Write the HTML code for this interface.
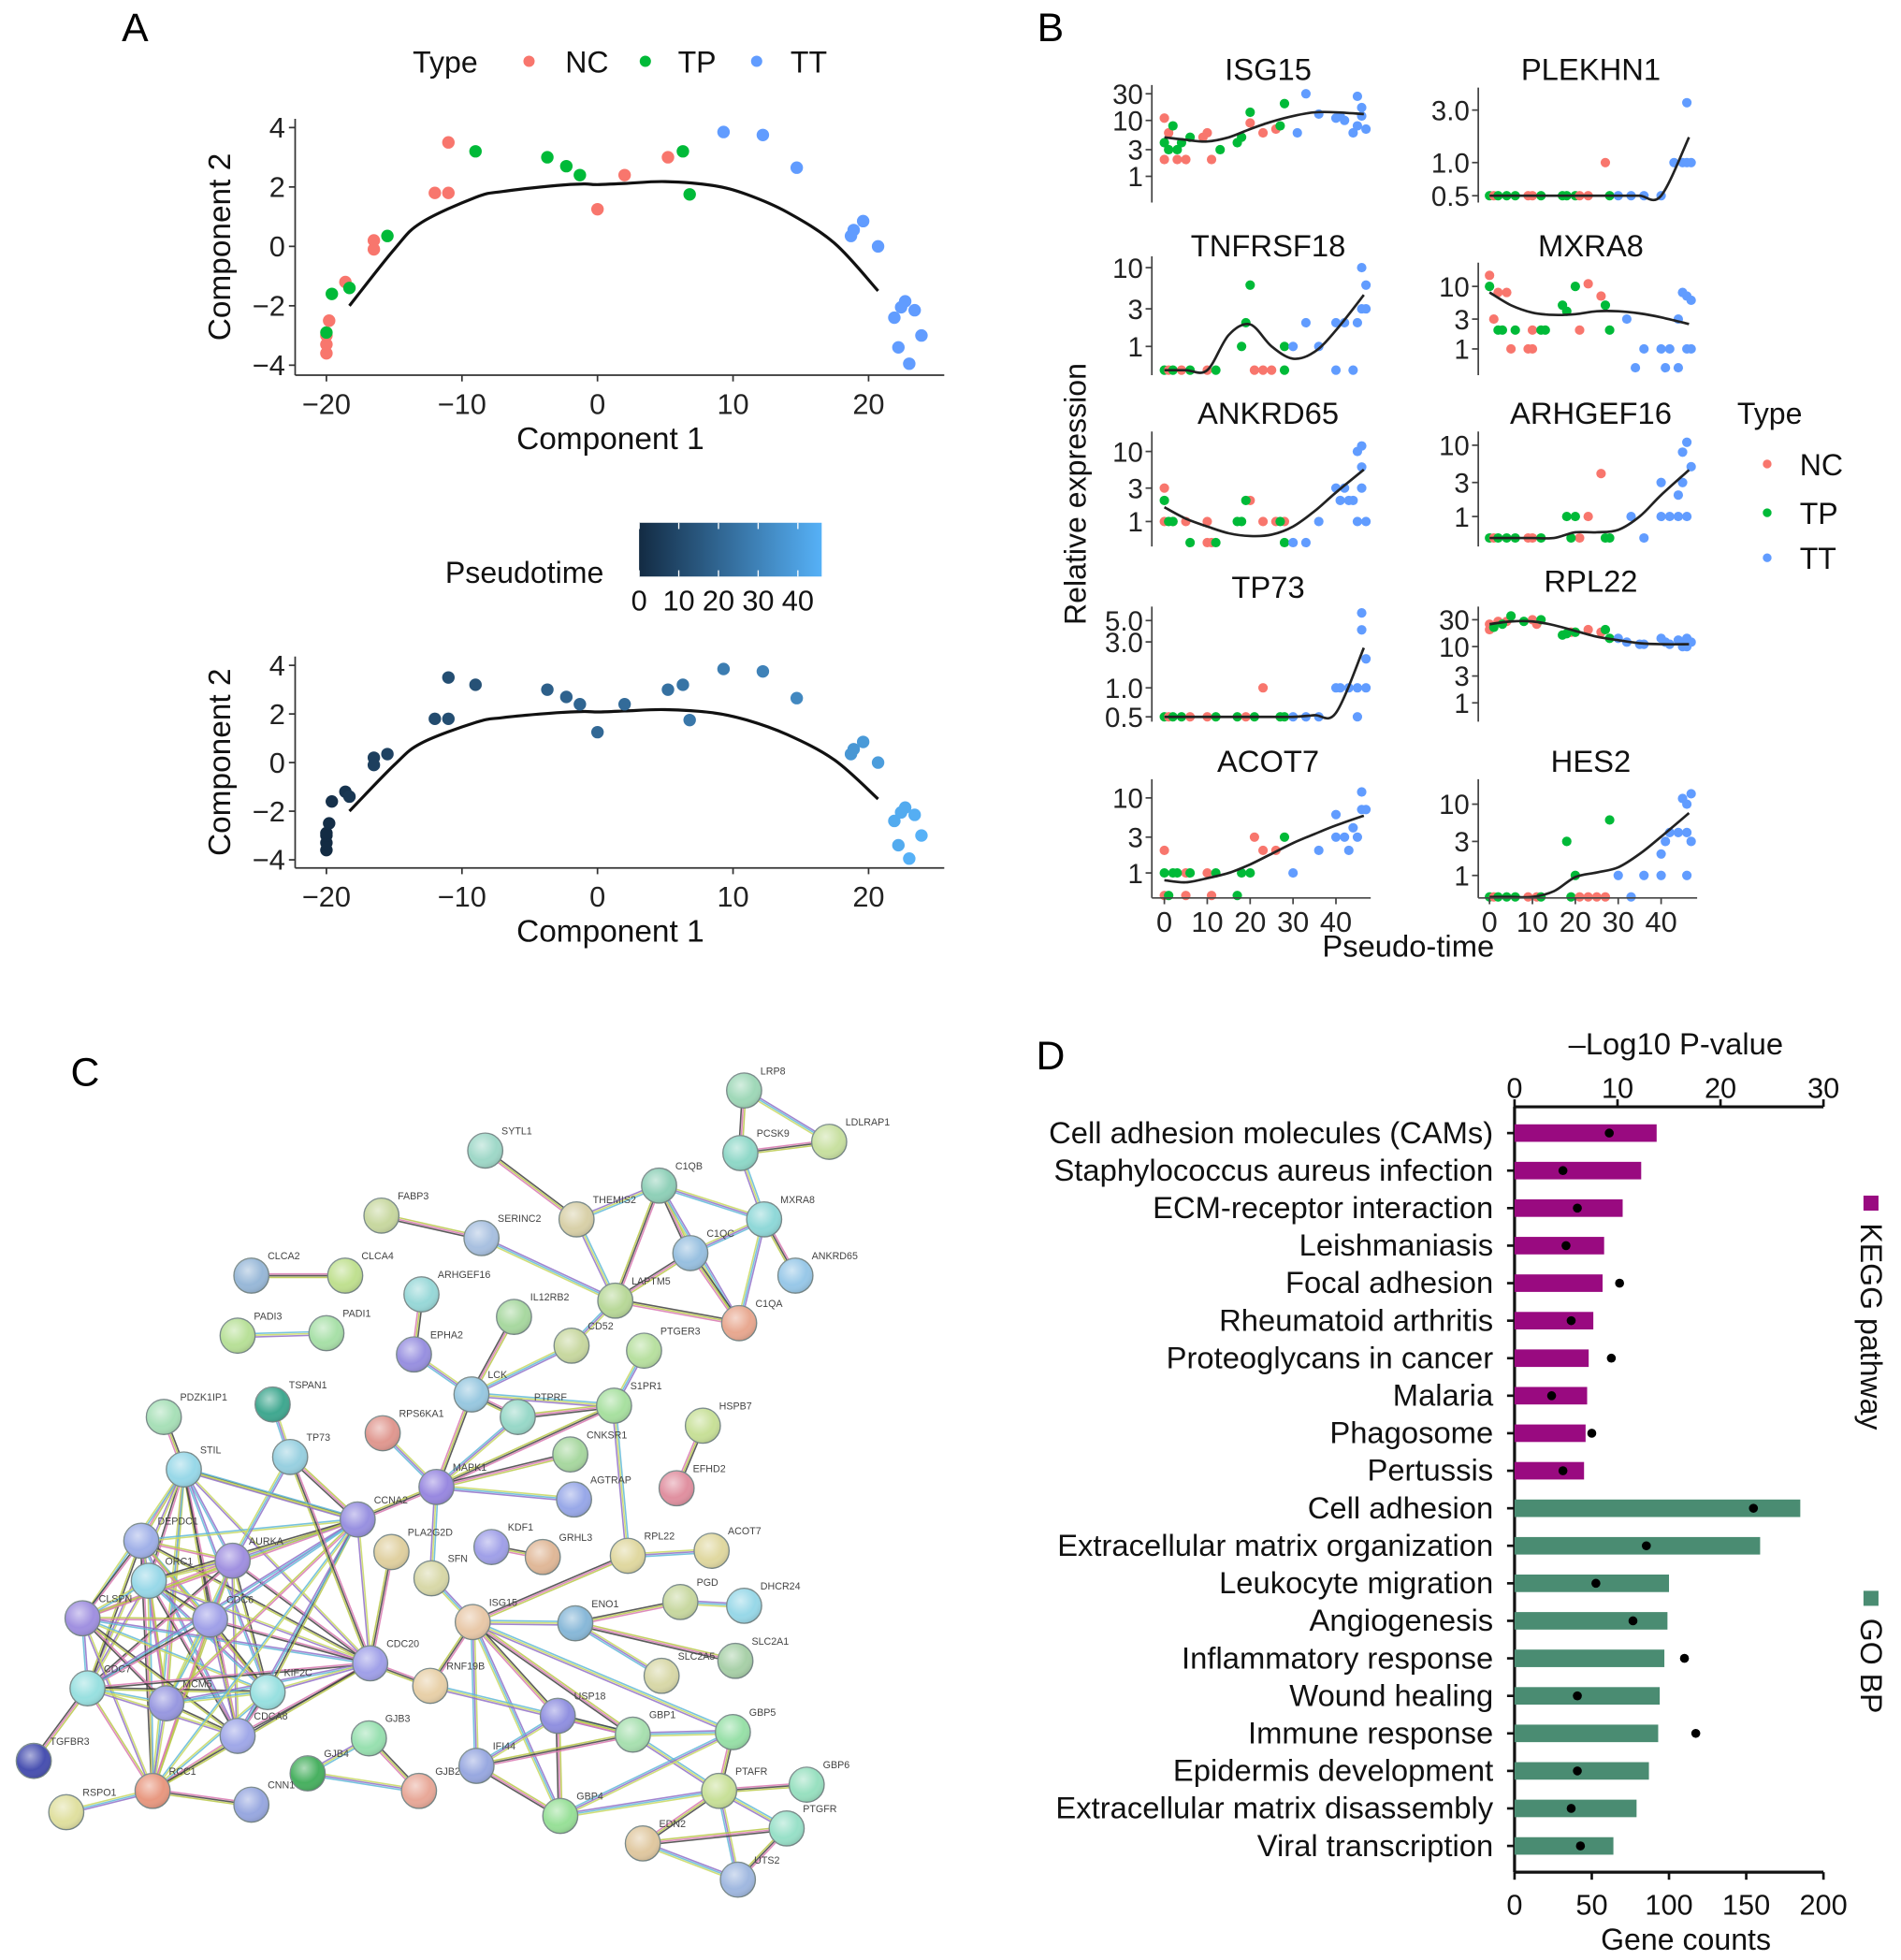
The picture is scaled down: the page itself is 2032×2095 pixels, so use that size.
<!DOCTYPE html>
<html><head><meta charset="utf-8"><style>
html,body{margin:0;padding:0;background:#fff;}
svg{display:block;font-family:"Liberation Sans",sans-serif;}
</style></head><body>
<svg id="fig" width="2032" height="2095" viewBox="0 0 1520 1567.2" preserveAspectRatio="none" xmlns="http://www.w3.org/2000/svg">
<defs>
<linearGradient id="ptGrad" x1="0" x2="1" y1="0" y2="0"><stop offset="0" stop-color="#132B43"/><stop offset="1" stop-color="#56B1F7"/></linearGradient>
<radialGradient id="shine" cx="0.4" cy="0.35" r="0.7"><stop offset="0" stop-color="#fff" stop-opacity="0.55"/><stop offset="0.6" stop-color="#fff" stop-opacity="0"/><stop offset="1" stop-color="#000" stop-opacity="0.15"/></radialGradient>
</defs>
<g id="root"></g>
</svg>
<script>
// ===== Panel A data =====
const compA1 = [-20,-20,-20,-20,-19.8,-19.6,-18.6,-18.3,-16.5,-16.5,-15.5,-12,-11,-11,-9,-3.7,-2.3,-1.3,0,2,5.2,6.3,6.8,9.3,12.2,14.7,18.7,18.9,19.6,20.7,21.9,22.4,22.7,23.4,23.9,22.2,23.0];
const compA2 = [-3.6,-3.3,-3.0,-2.9,-2.5,-1.6,-1.2,-1.4,0.2,-0.1,0.35,1.8,1.8,3.5,3.2,3.0,2.7,2.4,1.25,2.4,3.0,3.2,1.75,3.85,3.75,2.65,0.35,0.55,0.85,0,-2.4,-2.05,-1.85,-2.15,-3.0,-3.4,-3.95];
const typeA = ["NC","NC","NC","TP","NC","TP","NC","TP","NC","NC","TP","NC","NC","NC","TP","TP","TP","TP","NC","NC","NC","TP","TP","TT","TT","TT","TT","TT","TT","TT","TT","TT","TT","TT","TT","TT","TT"];
const pseudoA = [0,0,0,0,1,2,3,4,7,7,8,11,12,12,13,18,19,20,21,22,24,25,26,28,30,32,37,37,38,39,44,44,44,45,46,44,46];
const trajX = [-18.3,-15,-13,-9,-7,-3,-1,0,2,5,8.5,11,14,17.5,20.7];
const trajY = [-2,-0.1,0.8,1.65,1.85,2.05,2.1,2.08,2.12,2.18,2.05,1.75,1.15,0.1,-1.5];
const axisTicksA1 = [-20,-10,0,10,20];
const axisTicksA2 = [4,2,0,-2,-4];
const colorbarTicks = [0,10,20,30,40];

// ===== Panel B data: [pseudotime, expression, type] =====
const ISG15_pts = [[0,11,"NC"],[0,2,"NC"],[1,6,"NC"],[3,2,"NC"],[5,2,"NC"],[9,5,"NC"],[10,6,"NC"],[11,2,"NC"],[20,9,"NC"],[23,6,"NC"],[26,7,"NC"],[0,4,"TP"],[1,3,"TP"],[2,8,"TP"],[3,3,"TP"],[4,4,"TP"],[6,5,"TP"],[13,3,"TP"],[17,4,"TP"],[18,5,"TP"],[20,14,"TP"],[27,8,"TP"],[28,20,"TP"],[31,6,"TT"],[33,30,"TT"],[36,13,"TT"],[40,11,"TT"],[42,10,"TT"],[44,6,"TT"],[45,8,"TT"],[45,27,"TT"],[46,17,"TT"],[46,12,"TT"],[47,7,"TT"],[41,12,"TT"]];
const ISG15_fit = [5,4.5,4.2,5,7,9.5,12,14,14,13];
const PLEKHN1_pts = [[0,0.5,"TP"],[1,0.5,"NC"],[2,0.5,"TP"],[4,0.5,"TP"],[6,0.5,"TP"],[9,0.5,"NC"],[10,0.5,"NC"],[12,0.5,"TP"],[17,0.5,"TP"],[18,0.5,"TP"],[20,0.5,"TP"],[21,0.5,"NC"],[23,0.5,"NC"],[27,1,"NC"],[28,0.5,"TP"],[30,0.5,"TT"],[33,0.5,"TT"],[36,0.5,"TT"],[40,0.5,"TT"],[43,1,"TT"],[45,1,"TT"],[46,1,"TT"],[46,3.5,"TT"],[47,1,"TT"]];
const PLEKHN1_fit = [0.5,0.5,0.5,0.5,0.5,0.5,0.5,0.5,0.5,1.7];
const TNFRSF18_pts = [[0,0.5,"TP"],[1,0.5,"NC"],[2,0.5,"TP"],[4,0.5,"NC"],[6,0.5,"TP"],[10,0.5,"NC"],[12,0.5,"TP"],[18,1,"TP"],[19,2,"TP"],[20,6,"TP"],[28,1,"TP"],[21,0.5,"NC"],[23,0.5,"NC"],[25,0.5,"NC"],[28,0.5,"TP"],[30,1,"TT"],[33,2,"TT"],[36,1,"TT"],[40,0.5,"TT"],[40,2,"TT"],[42,2,"TT"],[44,0.5,"TT"],[45,2,"TT"],[46,10,"TT"],[46,3,"TT"],[47,6,"TT"],[47,3,"TT"]];
const TNFRSF18_fit = [0.5,0.5,0.5,1.4,1.9,1.0,0.7,0.85,1.6,4.5];
const MXRA8_pts = [[0,15,"NC"],[1,3,"NC"],[2,8,"NC"],[4,8,"NC"],[5,1,"NC"],[9,1,"NC"],[10,2,"NC"],[10,1,"NC"],[21,2,"NC"],[23,11,"NC"],[26,7,"NC"],[0,10,"TP"],[2,2,"TP"],[3,2,"TP"],[6,2,"TP"],[12,2,"TP"],[13,2,"TP"],[17,5,"TP"],[18,4,"TP"],[20,10,"TP"],[27,5,"TP"],[28,2,"TP"],[32,3,"TT"],[34,0.5,"TT"],[36,1,"TT"],[40,1,"TT"],[41,0.5,"TT"],[42,1,"TT"],[44,0.5,"TT"],[44,3,"TT"],[45,8,"TT"],[46,1,"TT"],[46,7,"TT"],[47,6,"TT"],[47,1,"TT"]];
const MXRA8_fit = [8,5,3.8,3.5,3.6,4,4,3.7,3.2,2.5];
const ANKRD65_pts = [[0,3,"NC"],[0,1,"NC"],[2,1,"NC"],[5,1,"NC"],[10,1,"NC"],[10,0.5,"NC"],[11,0.5,"NC"],[20,2,"NC"],[23,1,"NC"],[26,1,"NC"],[28,1,"NC"],[0,2,"TP"],[1,1,"TP"],[2,1,"TP"],[6,0.5,"TP"],[12,0.5,"TP"],[17,1,"TP"],[18,1,"TP"],[19,2,"TP"],[27,1,"TP"],[28,0.5,"TP"],[30,0.5,"TT"],[33,0.5,"TT"],[36,1,"TT"],[40,3,"TT"],[41,2,"TT"],[42,3,"TT"],[43,2,"TT"],[44,2,"TT"],[45,1,"TT"],[45,10,"TT"],[46,12,"TT"],[46,6,"TT"],[47,1,"TT"],[46,3,"TT"]];
const ANKRD65_fit = [1.6,1.1,0.85,0.68,0.62,0.65,0.85,1.4,2.6,5.5];
const ARHGEF16_pts = [[0,0.5,"TP"],[1,0.5,"NC"],[2,0.5,"TP"],[4,0.5,"TP"],[6,0.5,"TP"],[9,0.5,"NC"],[10,0.5,"NC"],[12,0.5,"TP"],[26,4,"NC"],[23,1,"NC"],[21,0.5,"NC"],[18,1,"TP"],[20,1,"TP"],[19,0.5,"TP"],[27,0.5,"TP"],[28,0.5,"TP"],[33,1,"TT"],[36,0.5,"TT"],[40,3,"TT"],[40,1,"TT"],[42,1,"TT"],[44,1,"TT"],[44,2,"TT"],[45,3,"TT"],[45,8,"TT"],[46,11,"TT"],[46,1,"TT"],[47,5,"TT"]];
const ARHGEF16_fit = [0.5,0.5,0.5,0.5,0.6,0.6,0.65,1.0,2,4.5];
const TP73_pts = [[0,0.5,"TP"],[1,0.5,"NC"],[2,0.5,"TP"],[4,0.5,"TP"],[6,0.5,"NC"],[10,0.5,"NC"],[12,0.5,"TP"],[17,0.5,"TP"],[19,0.5,"NC"],[21,0.5,"TP"],[23,1,"NC"],[27,0.5,"TP"],[28,0.5,"TP"],[30,0.5,"TT"],[33,0.5,"TT"],[36,0.5,"TT"],[40,1,"TT"],[41,1,"TT"],[43,1,"TT"],[45,1,"TT"],[45,0.5,"TT"],[46,6,"TT"],[46,4,"TT"],[47,2,"TT"],[47,1,"TT"]];
const TP73_fit = [0.5,0.5,0.5,0.5,0.5,0.5,0.5,0.52,0.55,2.6];
const RPL22_pts = [[0,20,"NC"],[0,25,"NC"],[2,28,"NC"],[4,28,"NC"],[10,30,"NC"],[11,25,"NC"],[19,18,"NC"],[23,20,"NC"],[26,18,"NC"],[1,22,"TP"],[3,25,"TP"],[5,35,"TP"],[8,28,"TP"],[12,30,"TP"],[17,16,"TP"],[18,17,"TP"],[20,18,"TP"],[27,20,"TP"],[28,14,"TP"],[30,14,"TT"],[32,12,"TT"],[35,11,"TT"],[36,11,"TT"],[40,14,"TT"],[41,12,"TT"],[42,11,"TT"],[44,13,"TT"],[45,10,"TT"],[46,14,"TT"],[46,10,"TT"],[47,12,"TT"],[45,12,"TT"]];
const RPL22_fit = [25,28,28,24,19,15,13,11.5,11,11];
const ACOT7_pts = [[0,2,"NC"],[0,0.5,"NC"],[5,1,"NC"],[5,0.5,"NC"],[10,1,"NC"],[11,0.5,"NC"],[21,3,"NC"],[23,2,"NC"],[26,2,"NC"],[0,1,"TP"],[1,0.5,"TP"],[2,1,"TP"],[3,1,"TP"],[6,1,"TP"],[12,1,"TP"],[17,0.5,"TP"],[18,1,"TP"],[20,1,"TP"],[28,3,"TP"],[30,1,"TT"],[36,2,"TT"],[40,6,"TT"],[40,3,"TT"],[42,3,"TT"],[43,2,"TT"],[44,4,"TT"],[45,3,"TT"],[46,12,"TT"],[46,7,"TT"],[47,7,"TT"]];
const ACOT7_fit = [0.8,0.75,0.85,1.0,1.3,1.8,2.5,3.3,4.3,5.8];
const HES2_pts = [[0,0.5,"TP"],[1,0.5,"NC"],[2,0.5,"TP"],[4,0.5,"TP"],[6,0.5,"TP"],[9,0.5,"NC"],[11,0.5,"NC"],[12,0.5,"TP"],[18,3,"TP"],[19,0.5,"TP"],[20,1,"TP"],[28,6,"TP"],[21,0.5,"NC"],[23,0.5,"NC"],[25,0.5,"NC"],[27,0.5,"NC"],[30,1,"TT"],[33,0.5,"TT"],[36,1,"TT"],[40,1,"TT"],[40,2,"TT"],[41,3,"TT"],[42,4,"TT"],[44,4,"TT"],[45,12,"TT"],[46,10,"TT"],[46,4,"TT"],[47,14,"TT"],[47,3,"TT"],[46,1,"TT"]];
const HES2_fit = [0.5,0.5,0.5,0.6,0.95,1.1,1.3,2,3.5,7.5];
const fitTimes = [0,5,10,15,20,25,30,35,40,46.5];
const ISG15_ticks = ["1","3","10","30"];
const PLEKHN1_ticks = ["0.5","1.0","3.0"];
const TNFRSF18_ticks = ["1","3","10"];
const MXRA8_ticks = ["1","3","10"];
const ANKRD65_ticks = ["1","3","10"];
const ARHGEF16_ticks = ["1","3","10"];
const TP73_ticks = ["0.5","1.0","3.0","5.0"];
const RPL22_ticks = ["1","3","10","30"];
const ACOT7_ticks = ["1","3","10"];
const HES2_ticks = ["1","3","10"];
const timeTicks = [0,10,20,30,40];

// ===== Panel D data =====
const dCategories = ["Cell adhesion molecules (CAMs)","Staphylococcus aureus infection","ECM-receptor interaction","Leishmaniasis","Focal adhesion","Rheumatoid arthritis","Proteoglycans in cancer","Malaria","Phagosome","Pertussis","Cell adhesion","Extracellular matrix organization","Leukocyte migration","Angiogenesis","Inflammatory response","Wound healing","Immune response","Epidermis development","Extracellular matrix disassembly","Viral transcription"];
const dGroups = ["KEGG","KEGG","KEGG","KEGG","KEGG","KEGG","KEGG","KEGG","KEGG","KEGG","GO","GO","GO","GO","GO","GO","GO","GO","GO","GO"];
const dCounts = [92,82,70,58,57,51,48,47,46,45,185,159,100,99,97,94,93,87,79,64];
const dLogP = [9.2,4.7,6.1,5.0,10.2,5.5,9.4,3.6,7.5,4.7,23.2,12.8,7.9,11.5,16.5,6.1,17.6,6.1,5.5,6.4];
const dCountTicks = [0,50,100,150,200];
const dPTicks = [0,10,20,30];

// ===== Panel C network =====
const netNodes = [["LRP8",595,872,"#9fd8b8"],["PCSK9",592,922,"#8fd8c8"],["LDLRAP1",663,913,"#c8e0a0"],["SYTL1",388,920,"#9fd8c8"],["C1QB",527,948,"#8fd0b8"],["MXRA8",611,975,"#8fd8d8"],["THEMIS2",461,975,"#d8d0a8"],["FABP3",305,972,"#c8d8a0"],["SERINC2",385,990,"#a8c0e0"],["C1QC",552,1002,"#98c0e0"],["ANKRD65",636,1020,"#98c8e8"],["CLCA2",201,1020,"#98b8d8"],["CLCA4",276,1020,"#c0e090"],["ARHGEF16",337,1035,"#98d8d8"],["LAPTM5",492,1040,"#b8d898"],["C1QA",591,1058,"#e8a890"],["IL12RB2",411,1053,"#a8d8a0"],["CD52",457,1076,"#c8d8a0"],["PTGER3",515,1080,"#b8e0a0"],["PADI3",190,1068,"#b8e098"],["PADI1",261,1066,"#a8e0a8"],["EPHA2",331,1083,"#9890e0"],["LCK",377,1115,"#98c8e0"],["PTPRF",414,1133,"#98d8c8"],["S1PR1",491,1124,"#a8e0a0"],["HSPB7",562,1140,"#c8e098"],["PDZK1IP1",131,1133,"#a8e0b8"],["TSPAN1",218,1123,"#40a890"],["RPS6KA1",306,1146,"#e09890"],["CNKSR1",456,1163,"#a8d8a0"],["TP73",232,1165,"#98d0e0"],["STIL",147,1175,"#98d8e8"],["MAPK1",349,1189,"#9888e0"],["AGTRAP",459,1199,"#98a8e8"],["EFHD2",541,1190,"#e090a0"],["CCNA2",286,1215,"#9890e0"],["DEPDC1",113,1232,"#a0b0e8"],["KDF1",393,1237,"#a0a0e8"],["GRHL3",434,1245,"#e0b898"],["RPL22",502,1244,"#e0d8a0"],["ACOT7",569,1240,"#e0d8a0"],["PLA2G2D",313,1241,"#e0d0a0"],["AURKA",186,1248,"#a090e0"],["ORC1",119,1264,"#98d8e8"],["SFN",345,1262,"#d8d8a8"],["CLSPN",66,1294,"#a090e0"],["CDC6",168,1295,"#a0a0e8"],["ISG15",378,1297,"#e8c8a8"],["ENO1",460,1298,"#88b8d8"],["PGD",544,1281,"#c8d8a0"],["DHCR24",595,1284,"#98d8e8"],["CDC20",296,1330,"#a0a0e8"],["SLC2A5",529,1340,"#d8d8a8"],["SLC2A1",588,1328,"#a8d0a8"],["CDC7",70,1350,"#98e0e0"],["MCM5",133,1362,"#9898e0"],["KIF2C",214,1353,"#98e0e0"],["CDCA8",190,1388,"#a0a8e8"],["RNF19B",344,1348,"#e8d0a8"],["USP18",446,1372,"#9090e0"],["GBP1",506,1387,"#a8e0b0"],["GBP5",586,1385,"#98e0a8"],["TGFBR3",27,1408,"#4850b0"],["GJB3",295,1390,"#98e0b0"],["GJB4",246,1418,"#48b060"],["GJB2",335,1432,"#e8a898"],["IFI44",381,1412,"#98a8e0"],["RCC1",122,1432,"#e89880"],["CNN1",201,1443,"#98a8e0"],["RSPO1",53,1449,"#e0e0a0"],["GBP4",448,1452,"#98e098"],["PTAFR",575,1432,"#c8e098"],["GBP6",645,1427,"#98e0c0"],["PTGFR",629,1462,"#98e0c8"],["EDN2",514,1474,"#e0c8a0"],["UTS2",590,1503,"#a0b8e0"]];
const netEdges = [["LRP8","PCSK9"],["LRP8","LDLRAP1"],["PCSK9","LDLRAP1"],["PCSK9","MXRA8"],["SYTL1","THEMIS2"],["C1QB","MXRA8"],["C1QB","C1QC"],["C1QB","C1QA"],["C1QB","LAPTM5"],["C1QB","THEMIS2"],["C1QC","C1QA"],["C1QC","MXRA8"],["C1QC","LAPTM5"],["MXRA8","C1QA"],["MXRA8","ANKRD65"],["THEMIS2","LAPTM5"],["LAPTM5","C1QA"],["LAPTM5","CD52"],["FABP3","SERINC2"],["SERINC2","LAPTM5"],["CLCA2","CLCA4"],["PADI3","PADI1"],["ARHGEF16","EPHA2"],["EPHA2","LCK"],["IL12RB2","LCK"],["CD52","LCK"],["LCK","PTPRF"],["LCK","S1PR1"],["LCK","MAPK1"],["PTPRF","MAPK1"],["PTPRF","S1PR1"],["PTGER3","S1PR1"],["S1PR1","MAPK1"],["S1PR1","RPL22"],["HSPB7","EFHD2"],["RPS6KA1","MAPK1"],["CNKSR1","MAPK1"],["AGTRAP","MAPK1"],["MAPK1","CCNA2"],["MAPK1","SFN"],["PDZK1IP1","STIL"],["TSPAN1","TP73"],["TP73","CCNA2"],["TP73","AURKA"],["TP73","CDC20"],["STIL","CCNA2"],["KDF1","GRHL3"],["RPL22","ACOT7"],["RPL22","ISG15"],["SFN","ISG15"],["PLA2G2D","CDC20"],["ISG15","ENO1"],["ISG15","USP18"],["ISG15","IFI44"],["ISG15","GBP1"],["ISG15","GBP4"],["ISG15","RNF19B"],["ISG15","GBP5"],["ENO1","PGD"],["ENO1","SLC2A5"],["ENO1","SLC2A1"],["PGD","DHCR24"],["CDC20","RNF19B"],["RNF19B","GBP1"],["USP18","GBP1"],["USP18","IFI44"],["USP18","GBP4"],["GBP1","GBP5"],["GBP1","IFI44"],["GBP1","PTAFR"],["GBP5","PTAFR"],["GBP5","GBP4"],["IFI44","GBP4"],["GBP4","PTAFR"],["PTAFR","GBP6"],["PTAFR","PTGFR"],["PTAFR","EDN2"],["PTAFR","UTS2"],["EDN2","PTGFR"],["EDN2","UTS2"],["PTGFR","UTS2"],["GJB3","GJB4"],["GJB3","GJB2"],["GJB4","GJB2"],["CDC7","TGFBR3"],["RCC1","RSPO1"],["RCC1","CNN1"]];
const cellCycle = ["STIL","DEPDC1","AURKA","ORC1","CLSPN","CDC6","CDC7","MCM5","KIF2C","CDCA8","RCC1","CCNA2","CDC20"];

// ===== rendering =====
const NS = "http://www.w3.org/2000/svg";
const root = document.getElementById("root");
function mk(tag, attrs, parent, text){
  const e = document.createElementNS(NS, tag);
  for (const k in attrs) e.setAttribute(k, attrs[k]);
  if (text !== undefined) e.textContent = text;
  (parent || root).appendChild(e);
  return e;
}
function smoothPath(P){
  let d = "M" + P[0][0].toFixed(1) + " " + P[0][1].toFixed(1);
  for (let i=0;i<P.length-1;i++){
    const p0 = P[Math.max(0,i-1)], p1 = P[i], p2 = P[i+1], p3 = P[Math.min(P.length-1,i+2)];
    const c1 = [p1[0]+(p2[0]-p0[0])/6, p1[1]+(p2[1]-p0[1])/6];
    const c2 = [p2[0]-(p3[0]-p1[0])/6, p2[1]-(p3[1]-p1[1])/6];
    d += " C" + c1[0].toFixed(1) + " " + c1[1].toFixed(1) + " " + c2[0].toFixed(1) + " " + c2[1].toFixed(1) + " " + p2[0].toFixed(1) + " " + p2[1].toFixed(1);
  }
  return d;
}
const typeColor = {NC:"#F8766D", TP:"#00BA38", TT:"#619CFF"};
function fmtNeg(v){ return v < 0 ? "\u2212" + Math.abs(v) : String(v); }

[["A",108,33],["B",840,33],["C",68,868],["D",840,855]].forEach(function(p){
  const t = mk("text",{x:p[1],y:p[2],"font-size":32,fill:"#000","text-anchor":"middle"},root,p[0]);
  
  
});

// ----- Panel A -----
function ptColor(t){
  const f = Math.max(0, Math.min(1, t/46));
  const a=[0x13,0x2B,0x43], b=[0x56,0xB1,0xF7];
  return "rgb(" + a.map(function(v,i){return Math.round(v+(b[i]-v)*f);}).join(",") + ")";
}
function scatterA(top, y4, yn4, axisY, colorMode, name){
  const g = mk("g",{});
  
  
  const sx = function(v){ return 261 + (v + 20) * (694.5 - 261) / 40; };
  const sy = function(v){ return y4 + (4 - v) * (yn4 - y4) / 8; };
  const ya = mk("line",{x1:236,x2:236,y1:top,y2:axisY,stroke:"#333","stroke-width":1.3},g);
  
  
  const xa = mk("line",{x1:236,x2:755,y1:axisY,y2:axisY,stroke:"#333","stroke-width":1.3},g);
  
  
  axisTicksA2.forEach(function(v){
    mk("line",{x1:231,x2:236,y1:sy(v),y2:sy(v),stroke:"#333","stroke-width":1.3},g);
    const t = mk("text",{x:228,y:sy(v)+8,"font-size":23,"text-anchor":"end",fill:"#222"},g,fmtNeg(v));
    
    
  });
  axisTicksA1.forEach(function(v){
    mk("line",{x1:sx(v),x2:sx(v),y1:axisY,y2:axisY+5,stroke:"#333","stroke-width":1.3},g);
    const t = mk("text",{x:sx(v),y:axisY+31,"font-size":23,"text-anchor":"middle",fill:"#222"},g,fmtNeg(v));
    
    
  });
  const xt = mk("text",{x:488,y:axisY+59,"font-size":25,"text-anchor":"middle",fill:"#111"},g,"Component 1");
  
  
  const cy = (top + axisY) / 2;
  const yt = mk("text",{x:0,y:0,"font-size":25,"text-anchor":"middle",fill:"#111",transform:"translate(184," + cy + ") rotate(-90)"},g,"Component 2");
  
  
  const tr = mk("path",{d:smoothPath(trajX.map(function(x,i){return [sx(x),sy(trajY[i])];})),fill:"none",stroke:"#111","stroke-width":2.4},g);
  
  
  compA1.forEach(function(x,i){
    const c = mk("circle",{cx:sx(x),cy:sy(compA2[i]),r:5,fill: colorMode === "type" ? typeColor[typeA[i]] : ptColor(pseudoA[i])},g);
    
    
  });
}
scatterA(95, 102, 292, 300, "type", "trajectory-by-type");
scatterA(525, 532, 687.5, 694, "pseudo", "trajectory-by-pseudotime");

(function(){
  const g = mk("g",{});
  
  
  mk("text",{x:330,y:58,"font-size":24,fill:"#111"},g,"Type");
  [["NC",423,452],["TP",516,542],["TT",605,632]].forEach(function(e){
    const c = mk("circle",{cx:e[1],cy:49,r:4.5,fill:typeColor[e[0]]},g);
    
    
    mk("text",{x:e[2],y:58,"font-size":24,fill:"#111"},g,e[0]);
  });
  const cb = mk("g",{});
  
  
  mk("text",{x:356,y:466,"font-size":24,fill:"#111"},cb,"Pseudotime");
  mk("rect",{x:511,y:418,width:146,height:43,fill:"url(#ptGrad)"},cb);
  colorbarTicks.forEach(function(v){
    const x = 511 + v * 146 / 46;
    mk("line",{x1:x,x2:x,y1:418,y2:423,stroke:"#fff","stroke-width":1},cb);
    mk("line",{x1:x,x2:x,y1:456,y2:461,stroke:"#fff","stroke-width":1},cb);
    mk("text",{x:x,y:488,"font-size":23,"text-anchor":"middle",fill:"#111"},cb,String(v));
  });
})();

// ----- Panel B -----
const genePanels = [
  ["ISG15",ISG15_pts,ISG15_fit,ISG15_ticks,0,68,162,141,44.7,55],
  ["PLEKHN1",PLEKHN1_pts,PLEKHN1_fit,PLEKHN1_ticks,1,70,162,130,88,55],
  ["TNFRSF18",TNFRSF18_pts,TNFRSF18_fit,TNFRSF18_ticks,0,205,300,277,63,196],
  ["MXRA8",MXRA8_pts,MXRA8_fit,MXRA8_ticks,1,210,300,279,50,196],
  ["ANKRD65",ANKRD65_pts,ANKRD65_fit,ANKRD65_ticks,0,345,437,417,56,330],
  ["ARHGEF16",ARHGEF16_pts,ARHGEF16_fit,ARHGEF16_ticks,1,345,437,413,57,330],
  ["TP73",TP73_pts,TP73_fit,TP73_ticks,0,485,577,550,77,469],
  ["RPL22",RPL22_pts,RPL22_fit,RPL22_ticks,1,485,577,562,45,464],
  ["ACOT7",ACOT7_pts,ACOT7_fit,ACOT7_ticks,0,623,718,698,60,608],
  ["HES2",HES2_pts,HES2_fit,HES2_ticks,1,623,718,700,57,608]
];
genePanels.forEach(function(p){
  const g = mk("g",{});
  
  
  const col = p[4];
  const ax = col ? 1182 : 921;
  const t0 = col ? 1191 : 931;
  const sx = function(t){ return t0 + t * 3.43; };
  const sy = function(v){ return p[7] - p[8] * Math.log10(v); };
  const tt = mk("text",{x:col?1272:1014,y:p[9]+9,"font-size":24.5,"text-anchor":"middle",fill:"#111"},g,p[0]);
  
  
  mk("line",{x1:ax,x2:ax,y1:p[5],y2:p[6],stroke:"#444","stroke-width":1.3},g);
  p[3].forEach(function(lab){
    const y = sy(parseFloat(lab));
    mk("line",{x1:ax-5,x2:ax,y1:y,y2:y,stroke:"#444","stroke-width":1.3},g);
    mk("text",{x:ax-7,y:y+8,"font-size":22,"text-anchor":"end",fill:"#222"},g,lab);
  });
  p[1].forEach(function(d){
    const c = mk("circle",{cx:sx(d[0]),cy:sy(d[1]),r:3.8,fill:typeColor[d[2]]},g);
    
    
  });
  const fl = mk("path",{d:smoothPath(fitTimes.map(function(t,i){return [sx(t),sy(p[2][i])];})),fill:"none",stroke:"#222","stroke-width":2,"stroke-linejoin":"round"},g);
  
  
  if (p[0] === "ACOT7" || p[0] === "HES2"){
    mk("line",{x1:ax,x2:ax+175,y1:718,y2:718,stroke:"#444","stroke-width":1.3},g);
    timeTicks.forEach(function(t){
      mk("line",{x1:sx(t),x2:sx(t),y1:718,y2:723,stroke:"#444","stroke-width":1.3},g);
      mk("text",{x:sx(t),y:745,"font-size":23,"text-anchor":"middle",fill:"#222"},g,String(t));
    });
  }
});
(function(){
  const t = mk("text",{x:1126,y:765,"font-size":24.5,"text-anchor":"middle",fill:"#111"},root,"Pseudo-time");
  
  
  const y = mk("text",{x:0,y:0,"font-size":24,"text-anchor":"middle",fill:"#111",transform:"translate(868,395) rotate(-90)"},root,"Relative expression");
  
  
  const g = mk("g",{});
  
  
  mk("text",{x:1389,y:339,"font-size":24,fill:"#111"},g,"Type");
  [["NC",371],["TP",410],["TT",446]].forEach(function(e){
    mk("circle",{cx:1413,cy:e[1],r:3.5,fill:typeColor[e[0]]},g);
    mk("text",{x:1439,y:e[1]+9,"font-size":24,fill:"#111"},g,e[0]);
  });
})();

// ----- Panel C network -----
(function(){
  const g = mk("g",{});
  
  
  const pos = {};
  netNodes.forEach(function(n){ pos[n[0]] = n; });
  const cols = ["#b8c848","#9070c8","#d878b0","#60b8d8","#404040","#c8d860"];
  function edge(a,b,k,wide){
    const A = pos[a], B = pos[b];
    const dx = B[1]-A[1], dy = B[2]-A[2], L = Math.hypot(dx,dy) || 1;
    const nx = -dy/L, ny = dx/L;
    const n = wide ? 3 : 2;
    for (let i=0;i<n;i++){
      const o = (i - (n-1)/2) * 1.4;
      const e = mk("line",{x1:A[1]+nx*o,y1:A[2]+ny*o,x2:B[1]+nx*o,y2:B[2]+ny*o,stroke:cols[(k+i*2)%cols.length],"stroke-width":1.2,"stroke-opacity":0.85},g);
      
      
    }
  }
  let k = 0;
  for (let i=0;i<cellCycle.length;i++) for (let j=i+1;j<cellCycle.length;j++){ edge(cellCycle[i],cellCycle[j],k++,false); }
  netEdges.forEach(function(e,i){ edge(e[0],e[1],i,true); });
  netNodes.forEach(function(n){
    const c = mk("circle",{cx:n[1],cy:n[2],r:14,fill:n[3],stroke:"#7a8a8a","stroke-width":1},g);
    
    
    mk("circle",{cx:n[1],cy:n[2],r:14,fill:"url(#shine)"},g);
    const t = mk("text",{x:n[1]+13,y:n[2]-13,"font-size":8,fill:"#444"},g,n[0]);
    
    
  });
})();

// ----- Panel D -----
(function(){
  const g = mk("g",{});
  
  
  const x0 = 1211, x1 = 1458;
  const sc = function(v){ return x0 + v * (x1 - x0) / 200; };
  const sp = function(v){ return x0 + v * (x1 - x0) / 30; };
  const sy = function(i){ return 906 + i * 30; };
  mk("line",{x1:x0,x2:x0,y1:885,y2:1497,stroke:"#111","stroke-width":2.4},g);
  const ta = mk("line",{x1:x0,x2:x1,y1:885,y2:885,stroke:"#111","stroke-width":2.4},g);
  
  
  const ba = mk("line",{x1:x0,x2:x1,y1:1497,y2:1497,stroke:"#111","stroke-width":2.4},g);
  
  
  dPTicks.forEach(function(v){
    mk("line",{x1:sp(v),x2:sp(v),y1:879,y2:885,stroke:"#111","stroke-width":2},g);
    mk("text",{x:sp(v),y:878,"font-size":23,"text-anchor":"middle",fill:"#111"},g,String(v));
  });
  dCountTicks.forEach(function(v){
    mk("line",{x1:sc(v),x2:sc(v),y1:1497,y2:1503,stroke:"#111","stroke-width":2},g);
    mk("text",{x:sc(v),y:1531,"font-size":23,"text-anchor":"middle",fill:"#111"},g,String(v));
  });
  mk("text",{x:1340,y:843,"font-size":24.5,"text-anchor":"middle",fill:"#111"},g,"\u2013Log10 P-value");
  mk("text",{x:1348,y:1559,"font-size":24,"text-anchor":"middle",fill:"#111"},g,"Gene counts");
  dCategories.forEach(function(c,i){
    const y = sy(i);
    mk("line",{x1:x0-6,x2:x0,y1:y,y2:y,stroke:"#111","stroke-width":2},g);
    const l = mk("text",{x:1194,y:y+8,"font-size":24.5,"text-anchor":"end",fill:"#111"},g,c);
    
    
    const b = mk("rect",{x:x0,y:y-7,width:sc(dCounts[i])-x0,height:14,fill:dGroups[i]==="KEGG"?"#990A80":"#4A8C72"},g);
    
    
    const d = mk("circle",{cx:sp(dLogP[i]),cy:y,r:3.6,fill:"#000"},g);
    
    
  });
  const k = mk("g",{},g);
  
  
  mk("rect",{x:1490,y:956,width:12,height:12,fill:"#990A80"},k);
  mk("text",{x:0,y:0,"font-size":24,fill:"#111",transform:"translate(1488,978) rotate(90)"},k,"KEGG pathway");
  const q = mk("g",{},g);
  
  
  mk("rect",{x:1490,y:1272,width:12,height:12,fill:"#4A8C72"},q);
  mk("text",{x:0,y:0,"font-size":24,fill:"#111",transform:"translate(1488,1294) rotate(90)"},q,"GO BP");
})();
</script>
</body></html>
